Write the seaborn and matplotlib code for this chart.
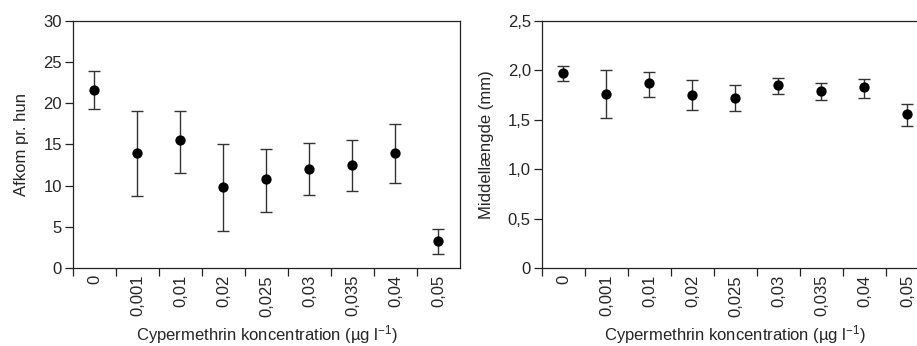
import numpy as np
import matplotlib
matplotlib.use("Agg")
import matplotlib.pyplot as plt
import seaborn as sns
import pandas as pd

# concentrations (category labels)
conc = ["0", "0,001", "0,01", "0,02", "0,025", "0,03", "0,035", "0,04", "0,05"]

# left panel: offspring per female
afkom = [21.6, 14.0, 15.5, 9.85, 10.8, 12.0, 12.5, 14.0, 3.25]
afkom_hi = [23.9, 19.1, 19.1, 15.0, 14.4, 15.2, 15.5, 17.5, 4.7]
afkom_lo = [19.3, 8.7, 11.5, 4.55, 6.85, 8.9, 9.3, 10.3, 1.7]

# right panel: mean length (mm)
laengde = [1.975, 1.765, 1.87, 1.75, 1.725, 1.855, 1.79, 1.83, 1.56]
laengde_hi = [2.045, 2.005, 1.98, 1.90, 1.85, 1.925, 1.875, 1.915, 1.655]
laengde_lo = [1.89, 1.515, 1.73, 1.60, 1.59, 1.76, 1.70, 1.72, 1.44]

sns.set_theme(style="ticks")
plt.rcParams["font.family"] = ["Liberation Sans", "DejaVu Sans"]
plt.rcParams["mathtext.fontset"] = "custom"
plt.rcParams["mathtext.rm"] = "Liberation Sans"
plt.rcParams["mathtext.default"] = "regular"

fs = 12

fig = plt.figure(figsize=(9.17, 3.46), dpi=100)
ax1 = fig.add_axes([0.0796, 0.2254, 0.422, 0.714])
ax2 = fig.add_axes([0.591, 0.2254, 0.422, 0.714])


def draw_panel(ax, y, hi, lo, ylim, yticks, yticklabels, ylabel):
    df = pd.DataFrame({"x": np.arange(len(conc)), "y": y})
    err = [np.array(y) - np.array(lo), np.array(hi) - np.array(y)]
    ax.errorbar(df.x, df.y, yerr=err, fmt="none", ecolor="#333333",
                elinewidth=1.0, capsize=4.5, capthick=1.0, zorder=2)
    sns.scatterplot(data=df, x="x", y="y", ax=ax, color="black", s=55,
                    edgecolor="black", linewidth=0, zorder=3, legend=False)
    ax.set_xlim(-0.5, len(conc) - 0.5)
    ax.set_ylim(*ylim)
    ax.set_yticks(yticks)
    ax.set_yticklabels(yticklabels, fontsize=fs)
    # boundaries get tick marks, centers get labels
    ax.set_xticks(np.arange(len(conc)) - 0.5)
    ax.set_xticklabels([])
    ax.set_xticks(np.arange(len(conc)), minor=True)
    ax.set_xticklabels(conc, minor=True, rotation=90, fontsize=fs)
    ax.tick_params(axis="x", which="major", length=6, width=0.9, color="#222222", direction="out")
    ax.tick_params(axis="x", which="minor", length=0, pad=5)
    ax.tick_params(axis="y", length=5.5, width=0.9, color="#222222", pad=2.5)
    for s in ax.spines.values():
        s.set_visible(True)
        s.set_color("#222222")
        s.set_linewidth(0.9)
    ax.set_xlabel("Cypermethrin koncentration (µg l$^{\\mathregular{-1}}$)", fontsize=fs, labelpad=5)
    ax.set_ylabel(ylabel, fontsize=fs, labelpad=10)


draw_panel(ax1, afkom, afkom_hi, afkom_lo, (0, 30), [0, 5, 10, 15, 20, 25, 30],
           ["0", "5", "10", "15", "20", "25", "30"], "Afkom pr. hun")
draw_panel(ax2, laengde, laengde_hi, laengde_lo, (0, 2.5), [0, 0.5, 1.0, 1.5, 2.0, 2.5],
           ["0", "0,5", "1,0", "1,5", "2,0", "2,5"], "Middellængde (mm)")

fig.savefig("out.png", dpi=100)
